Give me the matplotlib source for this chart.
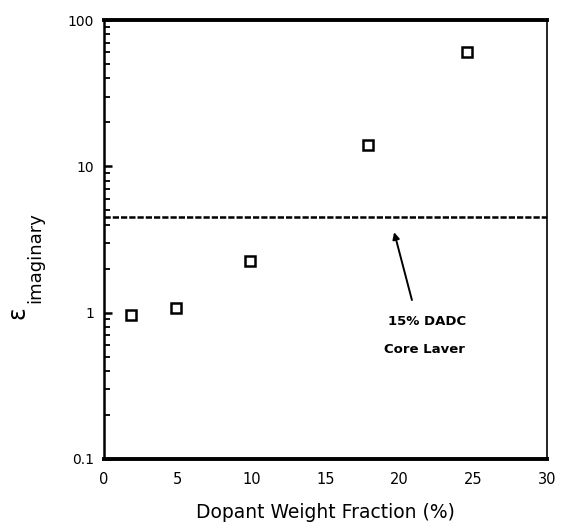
import numpy as np
import matplotlib
matplotlib.use("Agg")
import matplotlib.pyplot as plt

# data
dopant = [1.8, 4.9, 9.9, 17.9, 24.6]
eps_imag = [0.96, 1.07, 2.26, 14.0, 60.5]
core_layer = 4.5

plt.rcParams['font.family'] = ['DejaVu Sans']

W, H = 564, 525
fig = plt.figure(figsize=(W / 100, H / 100), dpi=100)
ax = fig.add_axes([104 / W, 1 - 459 / H, 443 / W, 439 / H])

ax.plot(dopant, eps_imag, 's', ms=7.5, mfc='white', mec='black', mew=1.8)
ax.axhline(core_layer, color='black', lw=1.8, ls=(0, (2.5, 0.8)))

# arrow pointing at the core layer line
ax.annotate('', xy=(19.6, 3.7), xytext=(20.9, 1.17),
            arrowprops=dict(arrowstyle='-|>', color='black', lw=1.4,
                            mutation_scale=10))
ax.text(21.9, 0.87, '15% DADC', ha='center', va='center', fontsize=9.5,
        fontweight='bold')
ax.text(21.7, 0.56, 'Core Laver', ha='center', va='center', fontsize=9.5,
        fontweight='semibold')

ax.set_yscale('log')
ax.set_xlim(0, 30)
ax.set_ylim(0.1, 100)
ax.set_xticks([0, 5, 10, 15, 20, 25, 30])
ax.set_yticks([0.1, 1, 10, 100])
ax.set_yticklabels(['0.1', '1', '10', '100'])
ax.tick_params(axis='x', length=0, pad=9, labelsize=10.5)
ax.tick_params(axis='y', which='major', direction='in', length=6, width=1.8,
               labelsize=10, pad=7)
ax.tick_params(axis='y', which='minor', direction='in', length=4, width=1.3)

for side, w in [('top', 2.8), ('bottom', 2.8), ('left', 1.8), ('right', 1.2)]:
    ax.spines[side].set_linewidth(w)

ax.set_xlabel('Dopant Weight Fraction (%)', fontsize=13.5, labelpad=12)

# y label: epsilon with a large subscript, placed by hand
fig.text(18 / W, 1 - 313 / H, '\u03b5', rotation=90, fontsize=17,
         ha='center', va='center')
fig.text(35 / W, 1 - 258 / H, 'imaginary', rotation=90, fontsize=13,
         ha='center', va='center')

fig.savefig('out.png', dpi=100)
